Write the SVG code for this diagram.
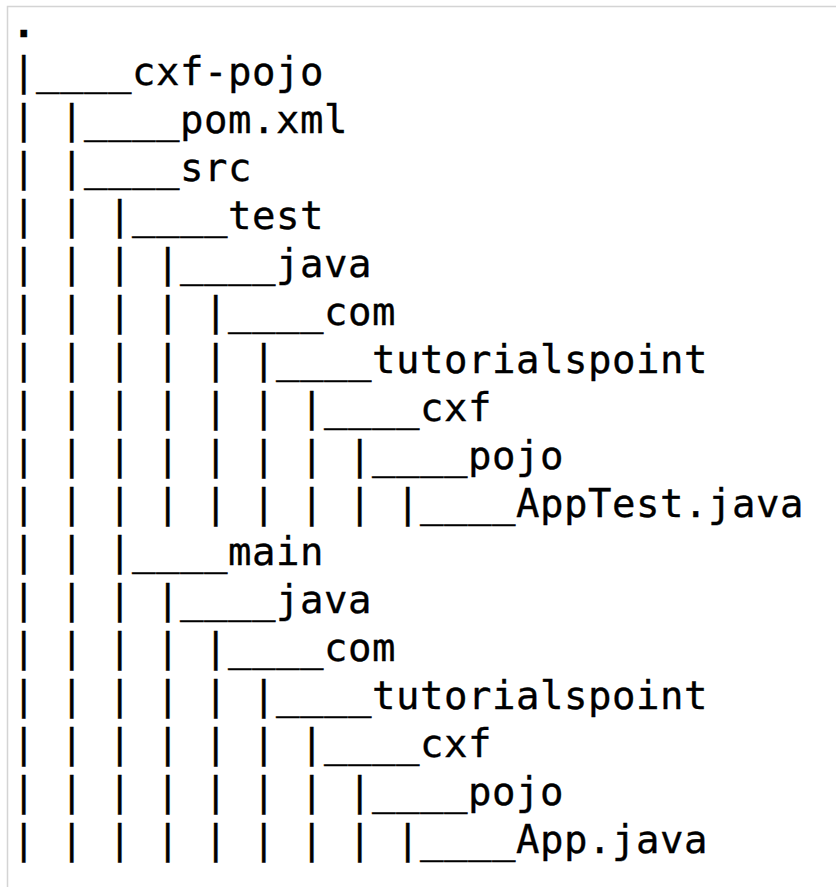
<svg xmlns="http://www.w3.org/2000/svg" width="836" height="887" viewBox="0 0 836 887">
<style>
.t{font-family:"DejaVu Sans Mono","Liberation Mono",monospace;font-size:39px;letter-spacing:0.52px;fill:#000;stroke:#000;stroke-width:0.35px;white-space:pre}
.b{font-weight:bold}
.frame{fill:none;stroke:#d4d4d4;stroke-width:1.5}
</style>
<rect width="836" height="887" fill="#fff"/>
<path class="frame" d="M7.5 900 V6.5 H836"/>
<g id="tree" xml:space="preserve">
<g id="root"><text class="t b" x="12" y="37">.</text></g>
<g id="cxf-pojo"><text class="t" x="12" y="85">|____cxf-pojo</text></g>
<g id="pom"><text class="t" x="12" y="133">| |____pom.xml</text></g>
<g id="src"><text class="t" x="12" y="181">| |____src</text></g>
<g id="test"><text class="t" x="12" y="229">| | |____test</text></g>
<g id="test-java"><text class="t" x="12" y="277">| | | |____java</text></g>
<g id="test-com"><text class="t" x="12" y="325">| | | | |____com</text></g>
<g id="test-tp"><text class="t" x="12" y="373">| | | | | |____tutorialspoint</text></g>
<g id="test-cxf"><text class="t" x="12" y="421">| | | | | | |____cxf</text></g>
<g id="test-pojo"><text class="t" x="12" y="469">| | | | | | | |____pojo</text></g>
<g id="apptest"><text class="t" x="12" y="517">| | | | | | | | |____AppTest.java</text></g>
<g id="main"><text class="t" x="12" y="565">| | |____main</text></g>
<g id="main-java"><text class="t" x="12" y="613">| | | |____java</text></g>
<g id="main-com"><text class="t" x="12" y="661">| | | | |____com</text></g>
<g id="main-tp"><text class="t" x="12" y="709">| | | | | |____tutorialspoint</text></g>
<g id="main-cxf"><text class="t" x="12" y="757">| | | | | | |____cxf</text></g>
<g id="main-pojo"><text class="t" x="12" y="805">| | | | | | | |____pojo</text></g>
<g id="app"><text class="t" x="12" y="853">| | | | | | | | |____App.java</text></g>
</g>
<g id="connectors"/>
</svg>
